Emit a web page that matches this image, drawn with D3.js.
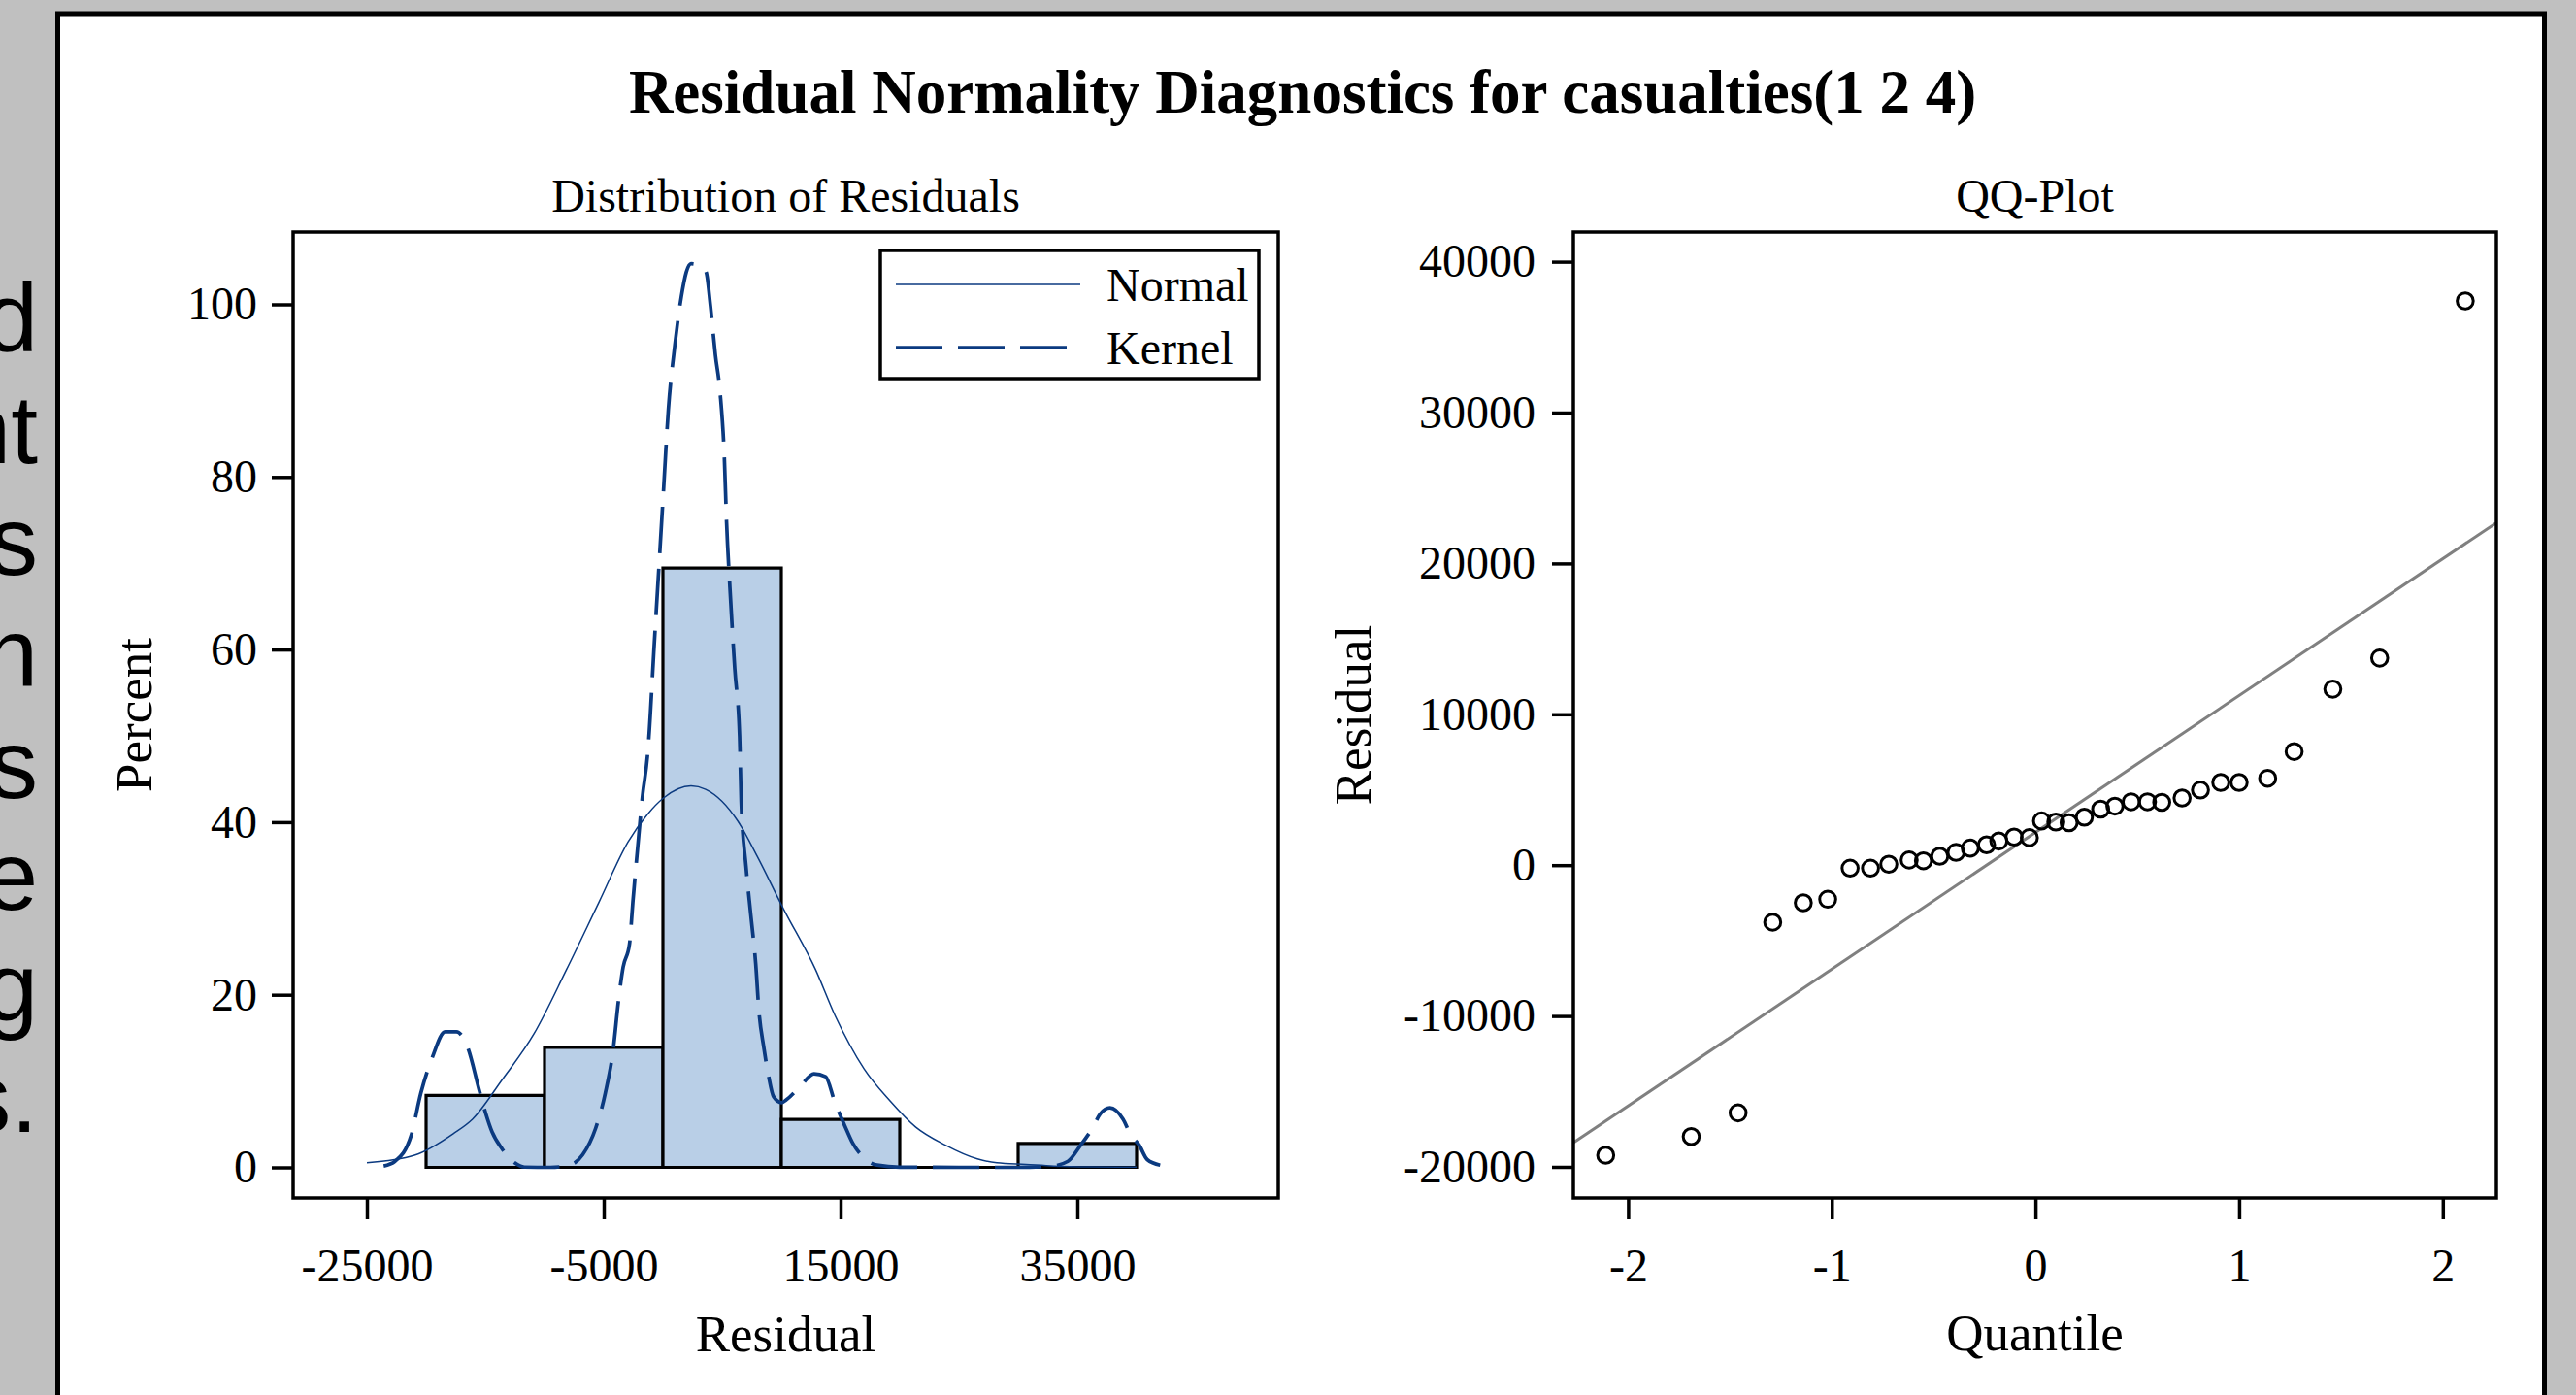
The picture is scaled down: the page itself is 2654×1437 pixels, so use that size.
<!DOCTYPE html>
<html>
<head>
<meta charset="utf-8">
<script src="https://cdn.jsdelivr.net/npm/d3@7"></script>
<style>
    body { margin: 0; background: #c0c0c0; }
    svg { display: block; }
    .tick text { font-family: "Liberation Serif", "Times New Roman", serif; font-size: 48px; fill: #000; }
    .tick line { stroke: #000; stroke-width: 3.5; }
</style>
</head>
<body>
<svg id="chart" width="2654" height="1437"></svg>
<script>
//Chart global variables
const width = 2654;
const height = 1437;
const serif = "'Liberation Serif', 'Times New Roman', serif";
const lineBlue = "#0b3a80";
const barBlue = "#b9cfe7";

//histogram: bin midpoints and percent of residuals
const binMids = [-15000, -5000, 5000, 15000, 25000, 35000];
const binPercents = [8.33, 13.89, 69.44, 5.56, 0, 2.78];
const binWidth = 10000;

//normal density curve (residual, percent)
const normalX = [-25000, -20984, -17705, -16066, -13607, -10877, -8148, -5410, -2951, -1311, 49, 2377, 3607,
                 6336, 7975, 10164, 12893, 14533, 16992, 19180, 21361, 23820, 26557, 28197, 30656, 33000, 36000, 40000];
const normalPct = [0.53, 1.4, 3.9, 5.6, 10.1, 15.5, 22.9, 30.7, 37.7, 40.9, 42.8, 44.2, 43.8,
                   40.1, 36.0, 30.0, 22.9, 17.6, 11.4, 7.7, 4.65, 2.6, 0.98, 0.53, 0.34, 0.15, 0.05, 0.02];

//kernel density curve (residual, percent)
const kernelX = [-23582, -22623, -21262, -20443, -19484, -18393, -17434, -16475, -15525, -14975, -14426, -13607,
                 -12516, -11697, -9500, -7869, -6779, -5689, -4869, -4180, -3771, -3361, -2820, -2541, -2131, -1721,
                 -1311, -1180, -770, -279, 49, 459, 1008, 1557, 1967, 2377, 3328, 3656, 4016, 4426, 4836, 5189, 5377,
                 5656, 6066, 6475, 6607, 7016, 7426, 7836, 8115, 8525, 8934, 9344, 10025, 10434, 11664, 12754, 13738,
                 14533, 15352, 16033, 16992, 18082, 20000, 25000, 30000, 32836, 34205, 35295, 36254, 36934, 37754,
                 38852, 39533, 40213, 40902, 41992];
const kernelPct = [0.15, 0.7, 3.7, 8.6, 12.7, 15.7, 15.7, 13.85, 9.0, 6.3, 4.1, 2.2,
                   0.53, 0.03, 0, 0.26, 1.46, 4.5, 8.6, 13.85, 19.1, 23.2, 25.9, 30.7, 37.1, 43.1,
                   47.6, 49.9, 59.7, 70.9, 78.4, 87.8, 95.3, 100.9, 103.7, 104.7, 104.3, 103.7, 99.8, 94.2, 89.7, 82.2, 74.7,
                   67.2, 57.8, 49.9, 42.4, 34.9, 29.2, 23.6, 18.0, 13.85, 10.5, 8.2, 7.5, 7.85, 9.5, 10.85, 10.5,
                   7.5, 4.85, 2.8, 1.1, 0.26, 0.02, 0, 0, 0.15, 0.7, 2.6, 4.5, 6.2, 6.9,
                   5.6, 3.7, 2.6, 0.9, 0.26];

//QQ plot points
const qqQuantiles = [-2.11, -1.69, -1.46, -1.29, -1.14, -1.02, -0.91, -0.81, -0.72, -0.62, -0.55, -0.47,
                     -0.39, -0.32, -0.24, -0.18, -0.105, -0.03, 0.03, 0.10, 0.165, 0.24, 0.32, 0.39,
                     0.47, 0.55, 0.62, 0.72, 0.81, 0.91, 1.00, 1.14, 1.27, 1.46, 1.69, 2.11];
const qqResiduals = [-19230, -17990, -16420, -3780, -2500, -2260, -200, -200, 60, 340, 290, 590,
                     850, 1130, 1350, 1600, 1860, 1820, 2930, 2860, 2810, 3180, 3710, 3910,
                     4200, 4200, 4160, 4450, 4980, 5480, 5480, 5760, 7530, 11670, 13730, 37400];

//reference line end points (quantile, residual)
const refLineQ = [-2.27, 2.26];
const refLineR = [-18410, 22670];

//tick values
const histTicksX = [-25000, -5000, 15000, 35000];
const histTicksY = [0, 20, 40, 60, 80, 100];
const qqTicksX = [-2, -1, 0, 1, 2];
const qqTicksY = [-20000, -10000, 0, 10000, 20000, 30000, 40000];

//slide text sticking out on the left
const sideText = ["d", "nt", "s", "h", "s", "e", "g", "s."];

const svg = d3.select("#chart");

//slide text behind the chart window
svg.selectAll("text.side")
    .data(sideText)
    .join("text")
    .attr("class", "side")
    .attr("x", 39)
    .attr("y", (d, i) => 362 + i * 114.9)
    .attr("text-anchor", "end")
    .attr("font-family", "'Liberation Sans', Arial, sans-serif")
    .attr("font-size", 100)
    .attr("fill", "#000")
    .text(d => d);

//white chart window
svg.append("rect")
    .attr("x", 59.5)
    .attr("y", 14)
    .attr("width", 2562)
    .attr("height", 1460)
    .attr("fill", "#fff")
    .attr("stroke", "#000")
    .attr("stroke-width", 5);

svg.append("text")
    .attr("x", 1342)
    .attr("y", 116)
    .attr("text-anchor", "middle")
    .attr("font-family", serif)
    .attr("font-weight", "bold")
    .attr("font-size", 63)
    .text("Residual Normality Diagnostics for casualties(1 2 4)");

//---------------- histogram ----------------
const histLeft = 302, histRight = 1317;
const plotTop = 239, plotBottom = 1234;

const xHist = d3.scaleLinear()
                .domain([-25000, 35000])
                .range([378, 1110]);

const yHist = d3.scaleLinear()
                .domain([0, 100])
                .range([1202.5, 313.5]);

svg.append("g")
    .selectAll("path")
    .data(binMids)
    .join("path")
    .attr("d", (d, i) => {
        const x0 = xHist(d - binWidth / 2), x1 = xHist(d + binWidth / 2);
        const y0 = yHist(0), y1 = yHist(binPercents[i]);
        return "M" + x0 + "," + y0 + "V" + y1 + "H" + x1 + "V" + y0 + "Z";
    })
    .attr("fill", barBlue)
    .attr("stroke", "#000")
    .attr("stroke-width", 3.2);

const normalLine = d3.line()
                    .x((d, i) => xHist(normalX[i]))
                    .y(d => yHist(d))
                    .curve(d3.curveMonotoneX);

svg.append("path")
    .attr("d", normalLine(normalPct))
    .attr("fill", "none")
    .attr("stroke", lineBlue)
    .attr("stroke-width", 1.5);

const kernelLine = d3.line()
                    .x((d, i) => xHist(kernelX[i]))
                    .y(d => yHist(d))
                    .curve(d3.curveMonotoneX);

svg.append("path")
    .attr("d", kernelLine(kernelPct))
    .attr("fill", "none")
    .attr("stroke", lineBlue)
    .attr("stroke-width", 3.7)
    .attr("stroke-dasharray", "48,16");

svg.append("g")
    .attr("transform", "translate(0," + plotBottom + ")")
    .call(d3.axisBottom(xHist).tickValues(histTicksX).tickSize(22).tickPadding(30).tickFormat(d => d))
    .call(g => g.select(".domain").remove());

svg.append("g")
    .attr("transform", "translate(" + histLeft + ",0)")
    .call(d3.axisLeft(yHist).tickValues(histTicksY).tickSize(22).tickPadding(15).tickFormat(d => d))
    .call(g => g.select(".domain").remove());

svg.append("rect")
    .attr("x", histLeft)
    .attr("y", plotTop)
    .attr("width", histRight - histLeft)
    .attr("height", plotBottom - plotTop)
    .attr("fill", "none")
    .attr("stroke", "#000")
    .attr("stroke-width", 3.5);

//legend
const legend = svg.append("g");

legend.append("rect")
    .attr("x", 907)
    .attr("y", 258)
    .attr("width", 390)
    .attr("height", 132)
    .attr("fill", "#fff")
    .attr("stroke", "#000")
    .attr("stroke-width", 3.5);

legend.append("line")
    .attr("x1", 923).attr("x2", 1113)
    .attr("y1", 293).attr("y2", 293)
    .attr("stroke", lineBlue)
    .attr("stroke-width", 1.5);

legend.append("line")
    .attr("x1", 923).attr("x2", 1101)
    .attr("y1", 358).attr("y2", 358)
    .attr("stroke", lineBlue)
    .attr("stroke-width", 3.7)
    .attr("stroke-dasharray", "48,16");

legend.selectAll("text")
    .data(["Normal", "Kernel"])
    .join("text")
    .attr("x", 1140)
    .attr("y", (d, i) => 310 + i * 65)
    .attr("font-family", serif)
    .attr("font-size", 48)
    .text(d => d);

svg.append("text")
    .attr("x", (histLeft + histRight) / 2)
    .attr("y", 218)
    .attr("text-anchor", "middle")
    .attr("font-family", serif)
    .attr("font-size", 48)
    .text("Distribution of Residuals");

svg.append("text")
    .attr("x", (histLeft + histRight) / 2)
    .attr("y", 1392)
    .attr("text-anchor", "middle")
    .attr("font-family", serif)
    .attr("font-size", 53)
    .text("Residual");

svg.append("text")
    .attr("transform", "translate(156," + (plotTop + plotBottom) / 2 + ") rotate(-90)")
    .attr("text-anchor", "middle")
    .attr("font-family", serif)
    .attr("font-size", 53)
    .text("Percent");

//---------------- QQ plot ----------------
const qqLeft = 1621, qqRight = 2572;

const xQQ = d3.scaleLinear()
                .domain([-2, 2])
                .range([1677.4, 2516.8]);

const yQQ = d3.scaleLinear()
                .domain([-20000, 40000])
                .range([1202, 269.6]);

svg.append("line")
    .attr("x1", xQQ(refLineQ[0]))
    .attr("y1", yQQ(refLineR[0]))
    .attr("x2", xQQ(refLineQ[1]))
    .attr("y2", yQQ(refLineR[1]))
    .attr("stroke", "#808080")
    .attr("stroke-width", 3);

svg.append("g")
    .selectAll("circle")
    .data(qqResiduals)
    .join("circle")
    .attr("cx", (d, i) => xQQ(qqQuantiles[i]))
    .attr("cy", d => yQQ(d))
    .attr("r", 8.3)
    .attr("fill", "none")
    .attr("stroke", "#000")
    .attr("stroke-width", 3);

svg.append("g")
    .attr("transform", "translate(0," + plotBottom + ")")
    .call(d3.axisBottom(xQQ).tickValues(qqTicksX).tickSize(22).tickPadding(30).tickFormat(d => d))
    .call(g => g.select(".domain").remove());

svg.append("g")
    .attr("transform", "translate(" + qqLeft + ",0)")
    .call(d3.axisLeft(yQQ).tickValues(qqTicksY).tickSize(22).tickPadding(17).tickFormat(d => d))
    .call(g => g.select(".domain").remove());

svg.append("rect")
    .attr("x", qqLeft)
    .attr("y", plotTop)
    .attr("width", qqRight - qqLeft)
    .attr("height", plotBottom - plotTop)
    .attr("fill", "none")
    .attr("stroke", "#000")
    .attr("stroke-width", 3.5);

svg.append("text")
    .attr("x", (qqLeft + qqRight) / 2)
    .attr("y", 218)
    .attr("text-anchor", "middle")
    .attr("font-family", serif)
    .attr("font-size", 48)
    .text("QQ-Plot");

svg.append("text")
    .attr("x", (qqLeft + qqRight) / 2)
    .attr("y", 1391)
    .attr("text-anchor", "middle")
    .attr("font-family", serif)
    .attr("font-size", 53)
    .text("Quantile");

svg.append("text")
    .attr("transform", "translate(1412," + (plotTop + plotBottom) / 2 + ") rotate(-90)")
    .attr("text-anchor", "middle")
    .attr("font-family", serif)
    .attr("font-size", 53)
    .text("Residual");
</script>
</body>
</html>
